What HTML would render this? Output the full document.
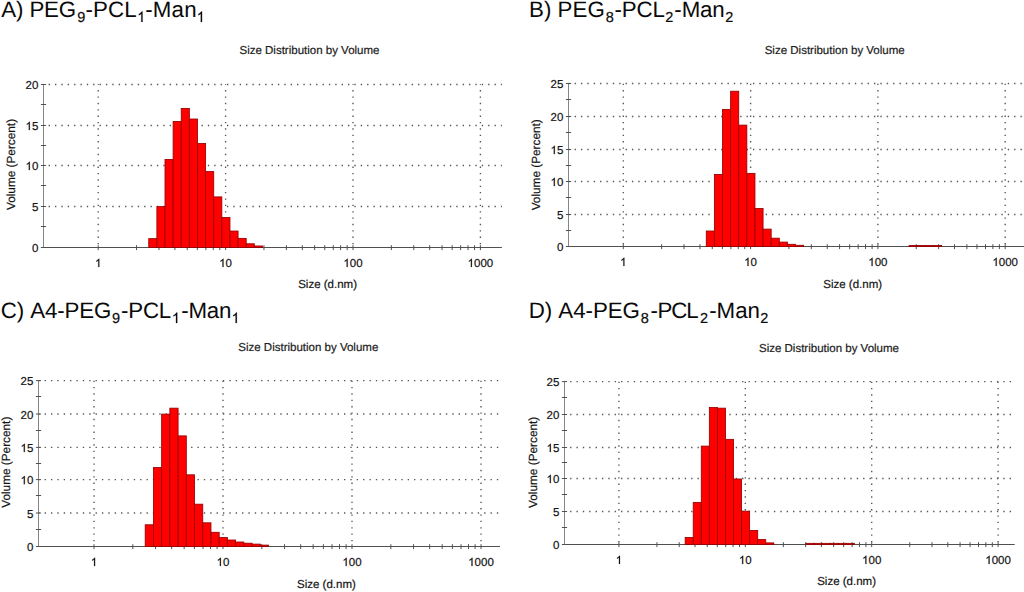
<!DOCTYPE html>
<html><head><meta charset="utf-8"><style>
html,body{margin:0;padding:0;background:#fff;overflow:hidden;}
svg{display:block;}
text{font-family:"Liberation Sans",sans-serif;text-rendering:geometricPrecision;}
.s{stroke:#1a1a1a;stroke-width:0.2px;}
</style></head><body>
<svg width="1024" height="592" viewBox="0 0 1024 592">
<rect width="1024" height="592" fill="#fff"/>
<g><text x="1.20 15.91 23.26 29.39 44.10 58.82" y="17.30" font-size="22.3" fill="#0a0a0a">A) PEG</text>
<text class="s" x="77.22" y="21.90" font-size="14.5" fill="#0a0a0a" stroke="#0a0a0a">9</text>
<text x="85.51 92.98 107.94 124.14" y="17.30" font-size="22.3" fill="#0a0a0a">-PCL</text>
<path d="M763 0H583V1147Q518 1085 415 1024Q312 963 233 934V1108Q375 1175 490 1279Q606 1383 655 1466H763Z" transform="translate(137.15 21.90) scale(0.00708 -0.00708)" fill="#0a0a0a" stroke="#0a0a0a" stroke-width="28.2"/>
<text x="145.21 152.74 171.57 184.15" y="17.30" font-size="22.3" fill="#0a0a0a">-Man</text>
<path d="M763 0H583V1147Q518 1085 415 1024Q312 963 233 934V1108Q375 1175 490 1279Q606 1383 655 1466H763Z" transform="translate(196.65 21.90) scale(0.00708 -0.00708)" fill="#0a0a0a" stroke="#0a0a0a" stroke-width="28.2"/>
<text x="309.50" y="54.10" font-size="11.5" class="s" text-anchor="middle" fill="#222">Size Distribution by Volume</text>
<path d="M43.50 206.50H501.90 M43.50 165.50H501.90 M43.50 125.50H501.90 M43.50 84.50H501.90" stroke="#555" stroke-width="1.35" stroke-dasharray="1.35 5.02" stroke-dashoffset="-5.1" fill="none"/>
<path d="M98.20 84.30V247.50 M225.60 84.30V247.50 M353.00 84.30V247.50 M480.40 84.30V247.50" stroke="#555" stroke-width="1.35" stroke-dasharray="1.35 5.02" stroke-dashoffset="-5.8" fill="none"/>
<path d="M43.50 84.30V247.50" stroke="#858585" stroke-width="1.0" fill="none"/>
<path d="M43.00 247.50H501.90 M40.90 247.50H46.10 M40.90 226.50H46.10 M40.90 206.50H46.10 M40.90 185.50H46.10 M40.90 165.50H46.10 M40.90 145.50H46.10 M40.90 125.50H46.10 M40.90 104.50H46.10 M40.90 84.50H46.10 M98.20 245.20V250.10 M136.55 245.20V250.10 M158.99 245.20V250.10 M174.90 245.20V250.10 M187.25 245.20V250.10 M197.34 245.20V250.10 M205.87 245.20V250.10 M213.25 245.20V250.10 M219.77 245.20V250.10 M225.60 245.20V250.10 M263.95 245.20V250.10 M286.39 245.20V250.10 M302.30 245.20V250.10 M314.65 245.20V250.10 M324.74 245.20V250.10 M333.27 245.20V250.10 M340.65 245.20V250.10 M347.17 245.20V250.10 M353.00 245.20V250.10 M391.35 245.20V250.10 M413.79 245.20V250.10 M429.70 245.20V250.10 M442.05 245.20V250.10 M452.14 245.20V250.10 M460.67 245.20V250.10 M468.05 245.20V250.10 M474.57 245.20V250.10 M480.40 245.20V250.10" stroke="#505050" stroke-width="1.0" fill="none"/>
<g fill="#ff0000" stroke="#960000" stroke-width="0.85"><rect x="148.76" y="238.63" width="8.12" height="8.87"/><rect x="156.88" y="206.62" width="8.12" height="40.88"/><rect x="165.00" y="159.43" width="8.12" height="88.07"/><rect x="173.12" y="121.46" width="8.12" height="126.04"/><rect x="181.24" y="108.40" width="8.12" height="139.10"/><rect x="189.36" y="119.01" width="8.12" height="128.49"/><rect x="197.48" y="143.50" width="8.12" height="104.00"/><rect x="205.60" y="171.59" width="8.12" height="75.91"/><rect x="213.72" y="196.90" width="8.12" height="50.60"/><rect x="221.84" y="217.56" width="8.12" height="29.94"/><rect x="229.96" y="231.03" width="8.12" height="16.47"/><rect x="238.08" y="238.38" width="8.12" height="9.12"/><rect x="246.20" y="243.77" width="8.12" height="3.73"/><rect x="254.32" y="245.98" width="8.12" height="1.52"/></g>
<text class="s" x="31.90" y="252.10" font-size="11.5" fill="#111" stroke="#111">0</text>
<text class="s" x="31.90" y="211.10" font-size="11.5" fill="#111" stroke="#111">5</text>
<path d="M763 0H583V1147Q518 1085 415 1024Q312 963 233 934V1108Q375 1175 490 1279Q606 1383 655 1466H763Z" transform="translate(25.51 170.10) scale(0.00562 -0.00562)" fill="#111" stroke="#111" stroke-width="35.6"/><text class="s" x="31.90" y="170.10" font-size="11.5" fill="#111" stroke="#111">0</text>
<path d="M763 0H583V1147Q518 1085 415 1024Q312 963 233 934V1108Q375 1175 490 1279Q606 1383 655 1466H763Z" transform="translate(25.51 130.10) scale(0.00562 -0.00562)" fill="#111" stroke="#111" stroke-width="35.6"/><text class="s" x="31.90" y="130.10" font-size="11.5" fill="#111" stroke="#111">5</text>
<text class="s" x="25.51" y="89.10" font-size="11.5" fill="#111" stroke="#111">20</text>
<path d="M763 0H583V1147Q518 1085 415 1024Q312 963 233 934V1108Q375 1175 490 1279Q606 1383 655 1466H763Z" transform="translate(95.00 267.00) scale(0.00562 -0.00562)" fill="#111" stroke="#111" stroke-width="35.6"/>
<path d="M763 0H583V1147Q518 1085 415 1024Q312 963 233 934V1108Q375 1175 490 1279Q606 1383 655 1466H763Z" transform="translate(219.20 267.00) scale(0.00562 -0.00562)" fill="#111" stroke="#111" stroke-width="35.6"/><text class="s" x="225.60" y="267.00" font-size="11.5" fill="#111" stroke="#111">0</text>
<path d="M763 0H583V1147Q518 1085 415 1024Q312 963 233 934V1108Q375 1175 490 1279Q606 1383 655 1466H763Z" transform="translate(343.40 267.00) scale(0.00562 -0.00562)" fill="#111" stroke="#111" stroke-width="35.6"/><text class="s" x="349.80" y="267.00" font-size="11.5" fill="#111" stroke="#111">00</text>
<path d="M763 0H583V1147Q518 1085 415 1024Q312 963 233 934V1108Q375 1175 490 1279Q606 1383 655 1466H763Z" transform="translate(467.61 267.00) scale(0.00562 -0.00562)" fill="#111" stroke="#111" stroke-width="35.6"/><text class="s" x="474.00" y="267.00" font-size="11.5" fill="#111" stroke="#111">000</text>
<text x="327.60" y="287.60" font-size="11.5" class="s" text-anchor="middle" fill="#111">Size (d.nm)</text>
<text transform="translate(15.30 164.50) rotate(-90)" x="0" y="0" font-size="11.8" class="s" text-anchor="middle" fill="#111">Volume (Percent)</text></g>
<g><text x="528.97 543.90 551.35 557.57 572.49 587.42" y="17.20" font-size="22.3" fill="#0a0a0a">B) PEG</text>
<text class="s" x="605.87" y="21.80" font-size="14.5" fill="#0a0a0a" stroke="#0a0a0a">8</text>
<text x="614.51 621.86 636.59 652.54" y="17.20" font-size="22.3" fill="#0a0a0a">-PCL</text>
<text class="s" x="665.37" y="21.80" font-size="14.5" fill="#0a0a0a" stroke="#0a0a0a">2</text>
<text x="674.31 681.63 699.93 712.15" y="17.20" font-size="22.3" fill="#0a0a0a">-Man</text>
<text class="s" x="725.17" y="21.80" font-size="14.5" fill="#0a0a0a" stroke="#0a0a0a">2</text>
<text x="834.70" y="54.10" font-size="11.5" class="s" text-anchor="middle" fill="#222">Size Distribution by Volume</text>
<path d="M568.50 214.50H1030.00 M568.50 181.50H1030.00 M568.50 149.50H1030.00 M568.50 116.50H1030.00 M568.50 83.50H1030.00" stroke="#555" stroke-width="1.35" stroke-dasharray="1.35 5.02" stroke-dashoffset="-6.1" fill="none"/>
<path d="M623.30 83.50V246.50 M750.60 83.50V246.50 M877.90 83.50V246.50 M1005.20 83.50V246.50" stroke="#555" stroke-width="1.35" stroke-dasharray="1.35 5.02" stroke-dashoffset="-6.6" fill="none"/>
<path d="M568.50 83.50V246.50" stroke="#858585" stroke-width="1.0" fill="none"/>
<path d="M568.00 246.50H1030.00 M565.90 246.50H571.10 M565.90 230.50H571.10 M565.90 214.50H571.10 M565.90 197.50H571.10 M565.90 181.50H571.10 M565.90 165.50H571.10 M565.90 149.50H571.10 M565.90 132.50H571.10 M565.90 116.50H571.10 M565.90 99.50H571.10 M565.90 83.50H571.10 M623.30 244.20V249.10 M661.62 244.20V249.10 M684.04 244.20V249.10 M699.94 244.20V249.10 M712.28 244.20V249.10 M722.36 244.20V249.10 M730.88 244.20V249.10 M738.26 244.20V249.10 M744.78 244.20V249.10 M750.60 244.20V249.10 M788.92 244.20V249.10 M811.34 244.20V249.10 M827.24 244.20V249.10 M839.58 244.20V249.10 M849.66 244.20V249.10 M858.18 244.20V249.10 M865.56 244.20V249.10 M872.08 244.20V249.10 M877.90 244.20V249.10 M916.22 244.20V249.10 M938.64 244.20V249.10 M954.54 244.20V249.10 M966.88 244.20V249.10 M976.96 244.20V249.10 M985.48 244.20V249.10 M992.86 244.20V249.10 M999.38 244.20V249.10 M1005.20 244.20V249.10" stroke="#505050" stroke-width="1.0" fill="none"/>
<g fill="#ff0000" stroke="#960000" stroke-width="0.85"><rect x="706.27" y="231.01" width="8.11" height="15.49"/><rect x="714.39" y="174.42" width="8.11" height="72.08"/><rect x="722.50" y="109.48" width="8.11" height="137.02"/><rect x="730.62" y="91.22" width="8.11" height="155.28"/><rect x="738.73" y="125.13" width="8.11" height="121.37"/><rect x="746.85" y="173.38" width="8.11" height="73.12"/><rect x="754.96" y="208.52" width="8.11" height="37.98"/><rect x="763.07" y="229.12" width="8.11" height="17.38"/><rect x="771.19" y="238.18" width="8.11" height="8.32"/><rect x="779.30" y="242.10" width="8.11" height="4.40"/><rect x="787.42" y="244.31" width="8.11" height="2.19"/><rect x="795.53" y="245.29" width="8.11" height="1.21"/><rect x="909.13" y="245.42" width="8.11" height="1.08"/><rect x="917.24" y="245.42" width="8.11" height="1.08"/><rect x="925.36" y="245.42" width="8.11" height="1.08"/><rect x="933.47" y="245.42" width="8.11" height="1.08"/></g>
<text class="s" x="556.90" y="251.10" font-size="11.5" fill="#111" stroke="#111">0</text>
<text class="s" x="556.90" y="219.10" font-size="11.5" fill="#111" stroke="#111">5</text>
<path d="M763 0H583V1147Q518 1085 415 1024Q312 963 233 934V1108Q375 1175 490 1279Q606 1383 655 1466H763Z" transform="translate(550.51 186.10) scale(0.00562 -0.00562)" fill="#111" stroke="#111" stroke-width="35.6"/><text class="s" x="556.90" y="186.10" font-size="11.5" fill="#111" stroke="#111">0</text>
<path d="M763 0H583V1147Q518 1085 415 1024Q312 963 233 934V1108Q375 1175 490 1279Q606 1383 655 1466H763Z" transform="translate(550.51 154.10) scale(0.00562 -0.00562)" fill="#111" stroke="#111" stroke-width="35.6"/><text class="s" x="556.90" y="154.10" font-size="11.5" fill="#111" stroke="#111">5</text>
<text class="s" x="550.51" y="121.10" font-size="11.5" fill="#111" stroke="#111">20</text>
<text class="s" x="550.51" y="88.10" font-size="11.5" fill="#111" stroke="#111">25</text>
<path d="M763 0H583V1147Q518 1085 415 1024Q312 963 233 934V1108Q375 1175 490 1279Q606 1383 655 1466H763Z" transform="translate(620.10 266.00) scale(0.00562 -0.00562)" fill="#111" stroke="#111" stroke-width="35.6"/>
<path d="M763 0H583V1147Q518 1085 415 1024Q312 963 233 934V1108Q375 1175 490 1279Q606 1383 655 1466H763Z" transform="translate(744.20 266.00) scale(0.00562 -0.00562)" fill="#111" stroke="#111" stroke-width="35.6"/><text class="s" x="750.60" y="266.00" font-size="11.5" fill="#111" stroke="#111">0</text>
<path d="M763 0H583V1147Q518 1085 415 1024Q312 963 233 934V1108Q375 1175 490 1279Q606 1383 655 1466H763Z" transform="translate(868.30 266.00) scale(0.00562 -0.00562)" fill="#111" stroke="#111" stroke-width="35.6"/><text class="s" x="874.70" y="266.00" font-size="11.5" fill="#111" stroke="#111">00</text>
<path d="M763 0H583V1147Q518 1085 415 1024Q312 963 233 934V1108Q375 1175 490 1279Q606 1383 655 1466H763Z" transform="translate(992.41 266.00) scale(0.00562 -0.00562)" fill="#111" stroke="#111" stroke-width="35.6"/><text class="s" x="998.80" y="266.00" font-size="11.5" fill="#111" stroke="#111">000</text>
<text x="852.70" y="287.60" font-size="11.5" class="s" text-anchor="middle" fill="#111">Size (d.nm)</text>
<text transform="translate(540.40 164.80) rotate(-90)" x="0" y="0" font-size="11.8" class="s" text-anchor="middle" fill="#111">Volume (Percent)</text></g>
<g><text x="0.87 16.80 24.14 30.27 44.98 57.25 64.60 79.31 94.02" y="318.40" font-size="22.3" fill="#0a0a0a">C) A4-PEG</text>
<text class="s" x="112.12" y="323.00" font-size="14.5" fill="#0a0a0a" stroke="#0a0a0a">9</text>
<text x="121.01 128.32 142.98 158.84" y="318.40" font-size="22.3" fill="#0a0a0a">-PCL</text>
<path d="M763 0H583V1147Q518 1085 415 1024Q312 963 233 934V1108Q375 1175 490 1279Q606 1383 655 1466H763Z" transform="translate(171.85 323.00) scale(0.00708 -0.00708)" fill="#0a0a0a" stroke="#0a0a0a" stroke-width="28.2"/>
<text x="181.31 188.61 206.86 219.05" y="318.40" font-size="22.3" fill="#0a0a0a">-Man</text>
<path d="M763 0H583V1147Q518 1085 415 1024Q312 963 233 934V1108Q375 1175 490 1279Q606 1383 655 1466H763Z" transform="translate(231.45 323.00) scale(0.00708 -0.00708)" fill="#0a0a0a" stroke="#0a0a0a" stroke-width="28.2"/>
<text x="308.30" y="350.60" font-size="11.5" class="s" text-anchor="middle" fill="#222">Size Distribution by Volume</text>
<path d="M38.50 513.00H500.00 M38.50 479.60H500.00 M38.50 447.40H500.00 M38.50 414.00H500.00 M38.50 380.60H500.00" stroke="#555" stroke-width="1.35" stroke-dasharray="1.35 5.02" stroke-dashoffset="-6.1" fill="none"/>
<path d="M94.00 380.60V546.50 M223.00 380.60V546.50 M352.00 380.60V546.50 M481.00 380.60V546.50" stroke="#555" stroke-width="1.35" stroke-dasharray="1.35 5.02" stroke-dashoffset="-6.4" fill="none"/>
<path d="M38.50 380.60V546.50" stroke="#858585" stroke-width="1.0" fill="none"/>
<path d="M38.00 546.50H500.00 M35.90 546.50H41.10 M35.90 529.50H41.10 M35.90 513.00H41.10 M35.90 495.50H41.10 M35.90 479.60H41.10 M35.90 463.50H41.10 M35.90 447.40H41.10 M35.90 430.50H41.10 M35.90 414.00H41.10 M35.90 396.50H41.10 M35.90 380.60H41.10 M94.00 544.20V549.10 M132.83 544.20V549.10 M155.55 544.20V549.10 M171.67 544.20V549.10 M184.17 544.20V549.10 M194.38 544.20V549.10 M203.02 544.20V549.10 M210.50 544.20V549.10 M217.10 544.20V549.10 M223.00 544.20V549.10 M261.83 544.20V549.10 M284.55 544.20V549.10 M300.67 544.20V549.10 M313.17 544.20V549.10 M323.38 544.20V549.10 M332.02 544.20V549.10 M339.50 544.20V549.10 M346.10 544.20V549.10 M352.00 544.20V549.10 M390.83 544.20V549.10 M413.55 544.20V549.10 M429.67 544.20V549.10 M442.17 544.20V549.10 M452.38 544.20V549.10 M461.02 544.20V549.10 M468.50 544.20V549.10 M475.10 544.20V549.10 M481.00 544.20V549.10" stroke="#505050" stroke-width="1.0" fill="none"/>
<g fill="#ff0000" stroke="#960000" stroke-width="0.85"><rect x="145.20" y="524.78" width="8.22" height="21.72"/><rect x="153.42" y="467.56" width="8.22" height="78.94"/><rect x="161.64" y="414.10" width="8.22" height="132.40"/><rect x="169.86" y="408.16" width="8.22" height="138.34"/><rect x="178.09" y="435.88" width="8.22" height="110.62"/><rect x="186.31" y="474.82" width="8.22" height="71.68"/><rect x="194.53" y="504.19" width="8.22" height="42.31"/><rect x="202.75" y="522.80" width="8.22" height="23.70"/><rect x="210.98" y="532.31" width="8.22" height="14.19"/><rect x="219.20" y="537.59" width="8.22" height="8.91"/><rect x="227.42" y="540.03" width="8.22" height="6.47"/><rect x="235.64" y="542.01" width="8.22" height="4.49"/><rect x="243.87" y="543.20" width="8.22" height="3.30"/><rect x="252.09" y="544.12" width="8.22" height="2.38"/><rect x="260.31" y="545.11" width="8.22" height="1.39"/></g>
<text class="s" x="26.90" y="551.10" font-size="11.5" fill="#111" stroke="#111">0</text>
<text class="s" x="26.90" y="517.60" font-size="11.5" fill="#111" stroke="#111">5</text>
<path d="M763 0H583V1147Q518 1085 415 1024Q312 963 233 934V1108Q375 1175 490 1279Q606 1383 655 1466H763Z" transform="translate(20.51 484.20) scale(0.00562 -0.00562)" fill="#111" stroke="#111" stroke-width="35.6"/><text class="s" x="26.90" y="484.20" font-size="11.5" fill="#111" stroke="#111">0</text>
<path d="M763 0H583V1147Q518 1085 415 1024Q312 963 233 934V1108Q375 1175 490 1279Q606 1383 655 1466H763Z" transform="translate(20.51 452.00) scale(0.00562 -0.00562)" fill="#111" stroke="#111" stroke-width="35.6"/><text class="s" x="26.90" y="452.00" font-size="11.5" fill="#111" stroke="#111">5</text>
<text class="s" x="20.51" y="418.60" font-size="11.5" fill="#111" stroke="#111">20</text>
<text class="s" x="20.51" y="385.20" font-size="11.5" fill="#111" stroke="#111">25</text>
<path d="M763 0H583V1147Q518 1085 415 1024Q312 963 233 934V1108Q375 1175 490 1279Q606 1383 655 1466H763Z" transform="translate(90.80 566.00) scale(0.00562 -0.00562)" fill="#111" stroke="#111" stroke-width="35.6"/>
<path d="M763 0H583V1147Q518 1085 415 1024Q312 963 233 934V1108Q375 1175 490 1279Q606 1383 655 1466H763Z" transform="translate(216.60 566.00) scale(0.00562 -0.00562)" fill="#111" stroke="#111" stroke-width="35.6"/><text class="s" x="223.00" y="566.00" font-size="11.5" fill="#111" stroke="#111">0</text>
<path d="M763 0H583V1147Q518 1085 415 1024Q312 963 233 934V1108Q375 1175 490 1279Q606 1383 655 1466H763Z" transform="translate(342.40 566.00) scale(0.00562 -0.00562)" fill="#111" stroke="#111" stroke-width="35.6"/><text class="s" x="348.80" y="566.00" font-size="11.5" fill="#111" stroke="#111">00</text>
<path d="M763 0H583V1147Q518 1085 415 1024Q312 963 233 934V1108Q375 1175 490 1279Q606 1383 655 1466H763Z" transform="translate(468.21 566.00) scale(0.00562 -0.00562)" fill="#111" stroke="#111" stroke-width="35.6"/><text class="s" x="474.60" y="566.00" font-size="11.5" fill="#111" stroke="#111">000</text>
<text x="326.40" y="587.60" font-size="11.5" class="s" text-anchor="middle" fill="#111">Size (d.nm)</text>
<text transform="translate(9.70 462.25) rotate(-90)" x="0" y="0" font-size="11.8" class="s" text-anchor="middle" fill="#111">Volume (Percent)</text></g>
<g><text x="528.67 544.74 552.14 558.33 573.16 585.54 592.94 607.78 622.62" y="318.40" font-size="22.3" fill="#0a0a0a">D) A4-PEG</text>
<text class="s" x="640.67" y="323.00" font-size="14.5" fill="#0a0a0a" stroke="#0a0a0a">8</text>
<text x="650.61 657.50 671.30 686.24" y="318.40" font-size="22.3" fill="#0a0a0a">-PCL</text>
<text class="s" x="700.07" y="323.00" font-size="14.5" fill="#0a0a0a" stroke="#0a0a0a">2</text>
<text x="709.21 716.61 735.13 747.50" y="318.40" font-size="22.3" fill="#0a0a0a">-Man</text>
<text class="s" x="760.27" y="323.00" font-size="14.5" fill="#0a0a0a" stroke="#0a0a0a">2</text>
<text x="829.00" y="351.90" font-size="11.5" class="s" text-anchor="middle" fill="#222">Size Distribution by Volume</text>
<path d="M564.50 511.50H1014.70 M564.50 478.50H1014.70 M564.50 447.50H1014.70 M564.50 414.50H1014.70 M564.50 381.60H1014.70" stroke="#555" stroke-width="1.35" stroke-dasharray="1.35 5.02" stroke-dashoffset="-5.6" fill="none"/>
<path d="M618.90 381.60V544.50 M745.30 381.60V544.50 M871.70 381.60V544.50 M998.10 381.60V544.50" stroke="#555" stroke-width="1.35" stroke-dasharray="1.35 5.02" stroke-dashoffset="-6.4" fill="none"/>
<path d="M564.50 381.60V544.50" stroke="#858585" stroke-width="1.0" fill="none"/>
<path d="M564.00 544.50H1014.70 M561.90 544.50H567.10 M561.90 527.50H567.10 M561.90 511.50H567.10 M561.90 494.50H567.10 M561.90 478.50H567.10 M561.90 462.50H567.10 M561.90 447.50H567.10 M561.90 430.50H567.10 M561.90 414.50H567.10 M561.90 397.50H567.10 M561.90 381.60H567.10 M618.90 542.20V547.10 M656.95 542.20V547.10 M679.21 542.20V547.10 M695.00 542.20V547.10 M707.25 542.20V547.10 M717.26 542.20V547.10 M725.72 542.20V547.10 M733.05 542.20V547.10 M739.52 542.20V547.10 M745.30 542.20V547.10 M783.35 542.20V547.10 M805.61 542.20V547.10 M821.40 542.20V547.10 M833.65 542.20V547.10 M843.66 542.20V547.10 M852.12 542.20V547.10 M859.45 542.20V547.10 M865.92 542.20V547.10 M871.70 542.20V547.10 M909.75 542.20V547.10 M932.01 542.20V547.10 M947.80 542.20V547.10 M960.05 542.20V547.10 M970.06 542.20V547.10 M978.52 542.20V547.10 M985.85 542.20V547.10 M992.32 542.20V547.10 M998.10 542.20V547.10" stroke="#505050" stroke-width="1.0" fill="none"/>
<g fill="#ff0000" stroke="#960000" stroke-width="0.85"><rect x="685.17" y="537.50" width="8.06" height="7.00"/><rect x="693.23" y="502.40" width="8.06" height="42.10"/><rect x="701.29" y="446.11" width="8.06" height="98.39"/><rect x="709.34" y="407.50" width="8.06" height="137.00"/><rect x="717.40" y="408.15" width="8.06" height="136.35"/><rect x="725.46" y="439.35" width="8.06" height="105.15"/><rect x="733.51" y="479.00" width="8.06" height="65.50"/><rect x="741.57" y="511.18" width="8.06" height="33.32"/><rect x="749.63" y="530.48" width="8.06" height="14.02"/><rect x="757.68" y="539.58" width="8.06" height="4.92"/><rect x="765.74" y="542.89" width="8.06" height="1.61"/><rect x="806.02" y="543.35" width="8.06" height="1.15"/><rect x="814.08" y="543.35" width="8.06" height="1.15"/><rect x="822.14" y="543.35" width="8.06" height="1.15"/><rect x="830.19" y="543.35" width="8.06" height="1.15"/><rect x="838.25" y="543.35" width="8.06" height="1.15"/><rect x="846.31" y="543.35" width="8.06" height="1.15"/></g>
<text class="s" x="552.90" y="549.10" font-size="11.5" fill="#111" stroke="#111">0</text>
<text class="s" x="552.90" y="516.10" font-size="11.5" fill="#111" stroke="#111">5</text>
<path d="M763 0H583V1147Q518 1085 415 1024Q312 963 233 934V1108Q375 1175 490 1279Q606 1383 655 1466H763Z" transform="translate(546.51 483.10) scale(0.00562 -0.00562)" fill="#111" stroke="#111" stroke-width="35.6"/><text class="s" x="552.90" y="483.10" font-size="11.5" fill="#111" stroke="#111">0</text>
<path d="M763 0H583V1147Q518 1085 415 1024Q312 963 233 934V1108Q375 1175 490 1279Q606 1383 655 1466H763Z" transform="translate(546.51 452.10) scale(0.00562 -0.00562)" fill="#111" stroke="#111" stroke-width="35.6"/><text class="s" x="552.90" y="452.10" font-size="11.5" fill="#111" stroke="#111">5</text>
<text class="s" x="546.51" y="419.10" font-size="11.5" fill="#111" stroke="#111">20</text>
<text class="s" x="546.51" y="386.20" font-size="11.5" fill="#111" stroke="#111">25</text>
<path d="M763 0H583V1147Q518 1085 415 1024Q312 963 233 934V1108Q375 1175 490 1279Q606 1383 655 1466H763Z" transform="translate(615.70 564.00) scale(0.00562 -0.00562)" fill="#111" stroke="#111" stroke-width="35.6"/>
<path d="M763 0H583V1147Q518 1085 415 1024Q312 963 233 934V1108Q375 1175 490 1279Q606 1383 655 1466H763Z" transform="translate(738.90 564.00) scale(0.00562 -0.00562)" fill="#111" stroke="#111" stroke-width="35.6"/><text class="s" x="745.30" y="564.00" font-size="11.5" fill="#111" stroke="#111">0</text>
<path d="M763 0H583V1147Q518 1085 415 1024Q312 963 233 934V1108Q375 1175 490 1279Q606 1383 655 1466H763Z" transform="translate(862.10 564.00) scale(0.00562 -0.00562)" fill="#111" stroke="#111" stroke-width="35.6"/><text class="s" x="868.50" y="564.00" font-size="11.5" fill="#111" stroke="#111">00</text>
<path d="M763 0H583V1147Q518 1085 415 1024Q312 963 233 934V1108Q375 1175 490 1279Q606 1383 655 1466H763Z" transform="translate(985.31 564.00) scale(0.00562 -0.00562)" fill="#111" stroke="#111" stroke-width="35.6"/><text class="s" x="991.70" y="564.00" font-size="11.5" fill="#111" stroke="#111">000</text>
<text x="846.60" y="585.00" font-size="11.5" class="s" text-anchor="middle" fill="#111">Size (d.nm)</text>
<text transform="translate(537.10 462.35) rotate(-90)" x="0" y="0" font-size="11.8" class="s" text-anchor="middle" fill="#111">Volume (Percent)</text></g>
</svg></body></html>
